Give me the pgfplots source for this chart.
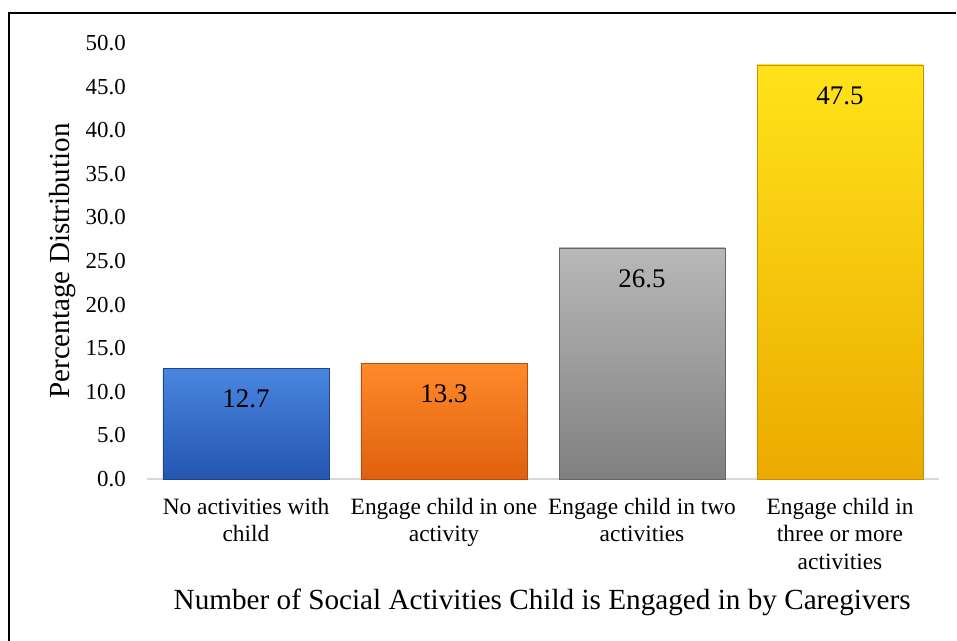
\documentclass[border=0pt]{standalone}
\usepackage{fontspec}
\setmainfont{Liberation Serif}
\usepackage{pgfplots}
\pgfplotsset{compat=1.18}
\definecolor{bluetop}{HTML}{4A86E0}
\definecolor{bluebot}{HTML}{2456B0}
\definecolor{orgtop}{HTML}{FF8A2A}
\definecolor{orgbot}{HTML}{E0600E}
\definecolor{gratop}{HTML}{B8B8B8}
\definecolor{grabot}{HTML}{808080}
\definecolor{yeltop}{HTML}{FFE31A}
\definecolor{yelbot}{HTML}{EBAA00}
\begin{document}
\begin{tikzpicture}
\useasboundingbox (-147bp,-162bp) rectangle (810bp,479bp);
\draw[line width=1.8bp, black] (-138bp,-170bp) -- (-138bp,466bp) -- (809bp,466bp);
\begin{axis}[
  at={(0,0)}, anchor=south west,
  scale only axis, width=792bp, height=436bp,
  xmin=-0.5, xmax=3.5, ymin=0, ymax=50,
  axis line style={draw=none},
  clip=false,
  ytick={0,5,...,50},
  xtick={0,1,2,3},
  xticklabels={{No activities with\\child},{Engage child in one\\activity},{Engage child in two\\activities},{Engage child in\\three or more\\activities}},
  major tick length=0pt,
  tick style={draw=none},
  /pgf/number format/assume math mode=true,
  yticklabel={\pgfmathprintnumber[fixed,fixed zerofill,precision=1]{\tick}},
  yticklabel style={font=\fontsize{23}{27}\selectfont, anchor=east, inner sep=0pt, xshift=-21bp},
  xticklabel style={font=\fontsize{23.5}{27.5}\selectfont, align=center, anchor=north, inner sep=0pt, yshift=-19bp},
  xlabel={Number of Social Activities Child is Engaged in by Caregivers},
  ylabel={Percentage Distribution},
  xlabel style={font=\fontsize{29.3}{34}\selectfont, at={(axis description cs:0.499,-0.284)}, anchor=center},
  ylabel style={font=\fontsize{29.2}{34}\selectfont, at={(axis description cs:-0.106,0.5)}, anchor=center, rotate=0},
  nodes near coords={\pgfmathprintnumber[fixed,fixed zerofill,precision=1]{\pgfplotspointmeta}},
  nodes near coords style={font=\fontsize{27}{31}\selectfont, anchor=center, yshift=-31bp, black},
]
\draw[line width=2.2bp, color=black!15] (axis cs:-0.5,0) -- (axis cs:3.5,0);
\addplot[ybar, bar width=166bp, bar shift=0pt, draw=bluebot!80!black, line width=0.6bp, top color=bluetop, bottom color=bluebot] coordinates {(0,12.7)};
\addplot[ybar, bar width=166bp, bar shift=0pt, draw=orgbot!80!black, line width=0.6bp, top color=orgtop, bottom color=orgbot] coordinates {(1,13.3)};
\addplot[ybar, bar width=166bp, bar shift=0pt, draw=grabot!80!black, line width=0.6bp, top color=gratop, bottom color=grabot] coordinates {(2,26.5)};
\addplot[ybar, bar width=166bp, bar shift=0pt, draw=yelbot!85!black, line width=0.6bp, top color=yeltop, bottom color=yelbot] coordinates {(3,47.5)};
\end{axis}
\end{tikzpicture}
\end{document}
